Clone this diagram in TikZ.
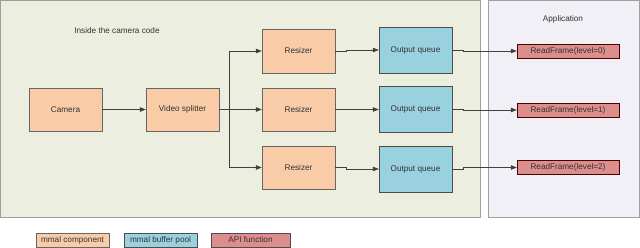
\documentclass[tikz,border=0pt]{standalone}
\usepackage{fontspec}
\setmainfont{Liberation Sans}
\usetikzlibrary{arrows.meta}
\definecolor{panelg}{HTML}{ECEFDF}
\definecolor{panela}{HTML}{F1F0F6}
\definecolor{orng}{HTML}{F9CBA7}
\definecolor{blu}{HTML}{9AD1DE}
\definecolor{rd}{HTML}{DC8E8C}
\definecolor{txt}{HTML}{333333}
\tikzset{
  base/.style={rectangle, inner sep=0pt, text=txt, font=\fontsize{8.2}{10}\selectfont},
  comp/.style={base, fill=orng, draw=gray!80!black, minimum width=73pt, minimum height=43pt},
  queue/.style={base, fill=blu, draw=gray!60!black, minimum width=73pt, minimum height=46pt},
  api/.style={base, fill=rd, draw=red!30!black, minimum width=102pt, minimum height=14pt},
  lcomp/.style={base, fill=orng, draw=gray!80!black, minimum width=73pt, minimum height=14pt},
  lqueue/.style={base, fill=blu, draw=gray!60!black, minimum width=73pt, minimum height=14pt},
  lapi/.style={base, fill=rd, draw=gray!60!black, minimum width=79pt, minimum height=14pt},
  lbl/.style={base},
  conn/.style={draw=black!75, line width=0.6pt, -{Triangle[length=6pt,width=4.5pt]}},
}
\begin{document}
\begin{tikzpicture}[x=1pt,y=-1pt]
\useasboundingbox (0,0) rectangle (640,248);
\fill[white] (0,0) rectangle (640,248);
\draw[fill=panelg, draw=gray!75, line width=1pt] (0.5,0.5) rectangle (480,218);
\draw[fill=panela, draw=gray!75, line width=1pt] (488,0.5) rectangle (639.5,218);
\node[lbl] (title) at (117,31) {Inside the camera code};
\node[lbl] (app) at (563,19) {Application};

\node[comp] (cam) at (65.5,109.5) {Camera};
\node[comp] (split) at (182.5,109.5) {Video splitter};
\node[comp, minimum height=44pt] (r1) at (298.5,51) {Resizer};
\node[comp] (r2) at (298.5,109.5) {Resizer};
\node[comp] (r3) at (298.5,167.5) {Resizer};
\node[queue] (q1) at (415.5,50) {Output queue};
\node[queue] (q2) at (415.5,109.5) {Output queue};
\node[queue] (q3) at (415.5,169) {Output queue};
\node[api] (f1) at (568,51) {ReadFrame(level=0)};
\node[api] (f2) at (568,110) {ReadFrame(level=1)};
\node[api] (f3) at (568,167.5) {ReadFrame(level=2)};

\node[lcomp] (l1) at (72.5,240) {mmal component};
\node[lqueue] (l2) at (160.5,240) {mmal buffer pool};
\node[lapi] (l3) at (250.5,240) {API function};

\draw[conn] (cam) -- (split);
\draw[conn] (split) -- (r2);
\draw[conn] (split.east) -- ++(10,0) |- (r1.west);
\draw[conn] (split.east) -- ++(10,0) |- (r3.west);
\draw[conn] (r1.east) -- ++(11,0) |- (q1.west);
\draw[conn] (r2.east) -- ++(11,0) |- (q2.west);
\draw[conn] (r3.east) -- ++(11,0) |- (q3.west);
\draw[conn] (q1.east) -- ++(11,0) |- (f1.west);
\draw[conn] (q2.east) -- ++(11,0) |- (f2.west);
\draw[conn] (q3.east) -- ++(11,0) |- (f3.west);
\end{tikzpicture}
\end{document}
